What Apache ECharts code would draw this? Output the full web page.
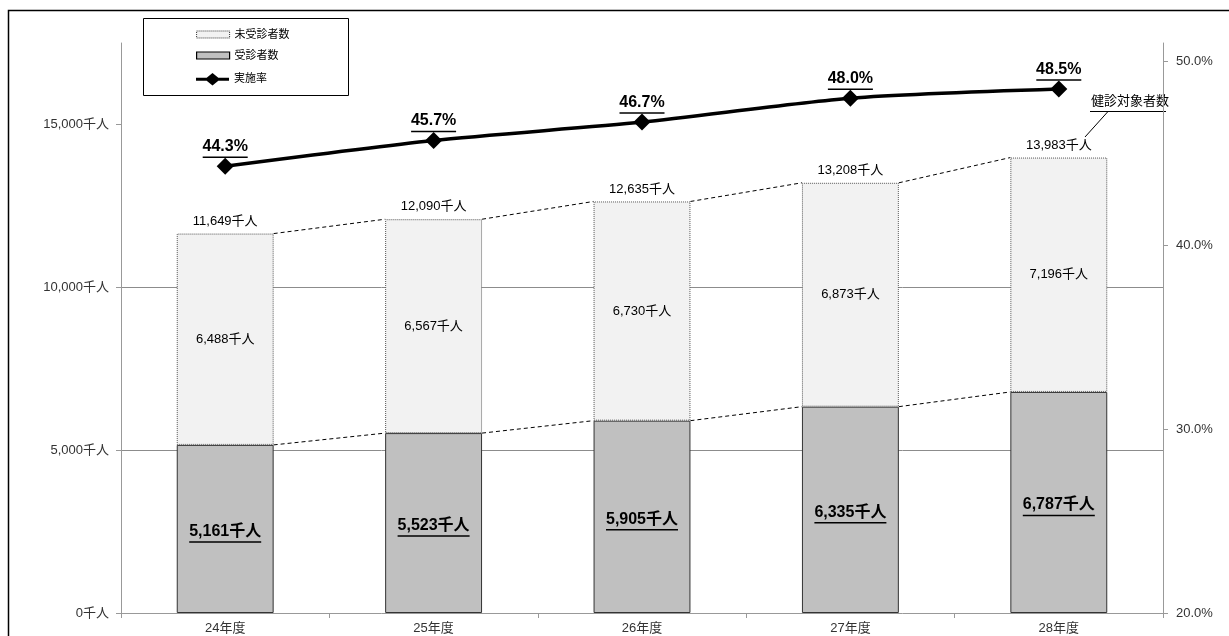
<!DOCTYPE html>
<html><head><meta charset="utf-8">
<script src="https://cdn.jsdelivr.net/npm/echarts@6/dist/echarts.min.js"></script>
<style>html,body{margin:0;padding:0;background:#fff}#c{width:1229px;height:636px}</style>
</head><body><div id="c"></div>
<script>
const categories = ['24年度','25年度','26年度','27年度','28年度'];
const examined = [5161, 5523, 5905, 6335, 6787];
const notExamined = [6488, 6567, 6730, 6873, 7196];
const totals = [11649, 12090, 12635, 13208, 13983];
const rates = [44.3, 45.7, 46.7, 48.0, 48.5];
const leftTicks = [0, 5000, 10000, 15000];
const rightTicks = [20, 30, 40, 50];

const FONT = '"Liberation Sans", "Noto Sans CJK JP", sans-serif';
const fmt = n => n.toLocaleString('en-US');
const BAR_RATIO = 0.465;

const cnv = document.createElement('canvas').getContext('2d');
function measure(text, font) { cnv.font = font; return cnv.measureText(text).width; }

const examinedText = examined.map(v => fmt(v) + '千人');
const rateText = rates.map(v => v.toFixed(1) + '%');
const EX_FONT = 'bold 16px ' + FONT;
const RATE_FONT = 'bold 16px ' + FONT;

function richWithUnderlines(texts, font, base) {
  const rich = { a: base };
  texts.forEach((t, i) => {
    rich['u' + i] = { width: Math.round(measure(t, font)), height: 1.5, lineHeight: 3, fontSize: 1, backgroundColor: '#000' };
  });
  return rich;
}

const chart = echarts.init(document.getElementById('c'));
const seriesLineData = examined.slice(0, -1).map((v, i) => [i, v, examined[i + 1], totals[i], totals[i + 1]]);

chart.setOption({
  textStyle: { fontFamily: FONT },
  animation: false,
  grid: { left: 121, right: 66, top: 43, bottom: 23 },
  legend: [{
    orient: 'vertical', left: 196, top: 29, padding: 0,
    itemWidth: 33, itemHeight: 7, itemGap: 10, icon: 'rect',
    textStyle: { fontSize: 11, color: '#000', fontFamily: FONT },
    data: [
      { name: '未受診者数', itemStyle: { color: '#f2f2f2', borderColor: '#333', borderWidth: 1, borderType: 'dotted' } },
      { name: '受診者数', itemStyle: { color: '#c0c0c0', borderColor: '#000', borderWidth: 1.2, borderType: 'solid' } }
    ]
  }, {
    orient: 'vertical', left: 196, top: 73, padding: 0,
    itemWidth: 33, itemHeight: 13,
    textStyle: { fontSize: 11, color: '#000', fontFamily: FONT },
    data: [{ name: '実施率', icon: 'path://M0,5H11L17,0L23,5H34V8H23L17,13L11,8H0Z', itemStyle: { color: '#000' } }]
  }],
  xAxis: {
    type: 'category', data: categories,
    axisLine: { lineStyle: { color: '#999' } },
    axisTick: { show: true, alignWithLabel: false, length: 5, lineStyle: { color: '#999' } },
    axisLabel: { color: '#333', fontSize: 13, margin: 9, fontFamily: FONT }
  },
  yAxis: [{
    type: 'value', min: 0, max: 17500, interval: 2500,
    axisLine: { show: true, lineStyle: { color: '#999' } },
    axisTick: { show: true, length: 5, customValues: leftTicks, lineStyle: { color: '#999' } },
    axisLabel: { customValues: leftTicks, color: '#333', fontSize: 13, margin: 12, fontFamily: FONT,
      formatter: v => fmt(v) + '千人' },
    splitLine: { show: true, showMinLine: false, showMaxLine: false, lineStyle: { color: '#8c8c8c', width: 1 } }
  }, {
    type: 'value', min: 20, max: 51, interval: 10,
    axisLine: { show: true, lineStyle: { color: '#999' } },
    axisTick: { show: true, length: 5, customValues: rightTicks, lineStyle: { color: '#999' } },
    axisLabel: { customValues: rightTicks, color: '#333', fontSize: 13, margin: 13, fontFamily: FONT,
      formatter: v => v.toFixed(1) + '%' },
    splitLine: { show: false }
  }],
  series: [{
    name: '受診者数', type: 'bar', stack: 's', data: examined,
    barWidth: (BAR_RATIO * 100) + '%',
    itemStyle: { color: '#c0c0c0', borderColor: '#333', borderWidth: 1 },
    label: {
      show: true, position: 'inside', offset: [0, 4],
      formatter: p => '{a|' + examinedText[p.dataIndex] + '}\n{u' + p.dataIndex + '| }',
      rich: richWithUnderlines(examinedText, EX_FONT,
        { fontSize: 16, fontWeight: 'bold', color: '#000', lineHeight: 18, fontFamily: FONT })
    }
  }, {
    name: '未受診者数', type: 'bar', stack: 's', data: notExamined,
    itemStyle: { color: '#f2f2f2', borderColor: '#555', borderWidth: 1, borderType: 'dotted' },
    label: {
      show: true, position: 'inside', color: '#000', fontSize: 13, fontFamily: FONT,
      formatter: p => fmt(p.value) + '千人'
    }
  }, {
    name: 'totalLabels', type: 'bar', stack: 's', data: totals.map(() => 0),
    itemStyle: { color: 'transparent' }, silent: true,
    label: {
      show: true, position: 'top', distance: 6, color: '#000', fontSize: 13, fontFamily: FONT,
      formatter: p => fmt(totals[p.dataIndex]) + '千人'
    }
  }, {
    name: '実施率', type: 'line', yAxisIndex: 1, data: rates,
    smooth: 0.25, symbol: 'diamond', symbolSize: 17,
    lineStyle: { color: '#000', width: 3.5 },
    itemStyle: { color: '#000' },
    label: {
      show: true, position: 'top', distance: -1,
      formatter: p => '{a|' + rateText[p.dataIndex] + '}\n{u' + p.dataIndex + '| }',
      rich: richWithUnderlines(rateText, RATE_FONT,
        { fontSize: 16, fontWeight: 'bold', color: '#000', lineHeight: 18, fontFamily: FONT })
    },
    z: 5
  }, {
    name: 'seriesLines', type: 'custom', silent: true, data: seriesLineData,
    renderItem: (params, api) => {
      const i = api.value(0);
      const half = api.size([1, 0])[0] * BAR_RATIO / 2;
      const mk = (v1, v2) => {
        const a = api.coord([i, v1]);
        const b = api.coord([i + 1, v2]);
        return { type: 'line', shape: { x1: a[0] + half, y1: a[1], x2: b[0] - half, y2: b[1] },
          style: { stroke: '#000', lineWidth: 1, lineDash: [4, 3] } };
      };
      return { type: 'group', children: [mk(api.value(1), api.value(2)), mk(api.value(3), api.value(4))] };
    },
    z: 3
  }],
  graphic: [
    { type: 'rect', shape: { x: 8.5, y: 10.5, width: 1400, height: 800 }, style: { fill: 'none', stroke: '#000', lineWidth: 1.5 }, silent: true, z: 100 },
    { type: 'rect', shape: { x: 143.5, y: 18.5, width: 205, height: 77 }, style: { fill: 'none', stroke: '#000', lineWidth: 1 }, silent: true, z: 100 },
    { type: 'text', left: 1091, top: 95, style: { text: '健診対象者数', fontSize: 13, fill: '#000', fontFamily: FONT } },
    { type: 'line', shape: { x1: 1090, y1: 111.5, x2: 1166, y2: 111.5 }, style: { stroke: '#000', lineWidth: 1.2 } },
    { type: 'line', shape: { x1: 1108, y1: 111.5, x2: 1085, y2: 137 }, style: { stroke: '#000', lineWidth: 1 } }
  ]
});
</script></body></html>
